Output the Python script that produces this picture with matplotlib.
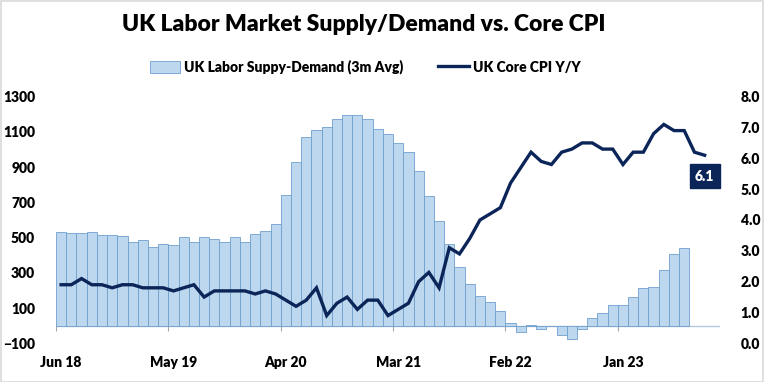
import numpy as np
import matplotlib.pyplot as plt
from matplotlib.patches import Rectangle

plt.rcParams.update({"font.family": ["Lato", "DejaVu Sans"], "font.weight": "heavy"})

# monthly, Jun 18 .. Sep 23 (line), bars stop at Jul 23
labor_sd = [534, 524, 524, 534, 515, 515, 509, 473, 488, 445, 462, 456,
            505, 473, 502, 490, 473, 502, 477, 519, 538, 576, 740, 929,
            1069, 1109, 1128, 1172, 1194, 1194, 1172, 1115, 1086, 1035, 984, 878,
            735, 594, 462, 331, 237, 169, 133, 83, 15, -36, 6, -19,
            -4, -51, -74, -17, 44, 72, 119, 119, 163, 212, 218, 316,
            407, 443]
core_cpi = [1.9, 1.9, 2.1, 1.9, 1.9, 1.8, 1.9, 1.9, 1.8, 1.8, 1.8, 1.7,
            1.8, 1.9, 1.5, 1.7, 1.7, 1.7, 1.7, 1.6, 1.7, 1.6, 1.4, 1.2,
            1.4, 1.8, 0.9, 1.3, 1.5, 1.1, 1.4, 1.4, 0.9, 1.1, 1.3, 2.0,
            2.3, 1.8, 3.1, 2.9, 3.4, 4.0, 4.2, 4.4, 5.2, 5.7, 6.2, 5.9,
            5.8, 6.2, 6.3, 6.5, 6.5, 6.3, 6.3, 5.8, 6.2, 6.2, 6.8, 7.1,
            6.9, 6.9, 6.2, 6.1]
tick_pos = [0, 11, 22, 33, 44, 55]
tick_labels = ["Jun 18", "May 19", "Apr 20", "Mar 21", "Feb 22", "Jan 23"]

navy = "#0b2559"
bar_fill = "#bdd7ee"
bar_edge = "#6f9fcf"

fig = plt.figure(figsize=(7.64, 3.82), dpi=100)
ax = fig.add_axes([0.0733, 0.1013, 0.8691, 0.6456])
ax2 = ax.twinx()

x_bar = np.arange(len(labor_sd))
x_line = np.arange(len(core_cpi))

ax.bar(x_bar, labor_sd, width=1.0, color=bar_fill, edgecolor=bar_edge,
       linewidth=0.6, label="UK Labor Suppy-Demand (3m Avg)", zorder=2)
ax.axhline(0, color="#b4c7e0", linewidth=1.0, zorder=1)
bounds = np.array(tick_pos) - 0.5
ax.vlines(bounds, -30, 0, color="#a6a6a6", linewidth=0.8, zorder=1)

ax2.plot(x_line, core_cpi, color=navy, linewidth=2.4, label="UK Core CPI Y/Y",
         solid_joinstyle="miter", zorder=3)
ax2.annotate(f"{core_cpi[-1]:.1f}", xy=(x_line[-1], core_cpi[-1]),
             xytext=(0, -15), textcoords="offset points", ha="center", va="center",
             color="white", fontsize=10,
             bbox=dict(boxstyle="square,pad=0.38", fc=navy, ec=navy))

ax.set_xlim(-0.5, 64.5)
ax.set_ylim(-100, 1300)
ax2.set_ylim(0, 8)
ax.set_yticks(np.arange(-100, 1301, 200))
ax2.set_yticks(np.arange(0, 8.01, 1))
ax2.set_yticklabels([f"{v:.1f}" for v in np.arange(0, 8.01, 1)])
ax.set_xticks(tick_pos)
ax.set_xticklabels(tick_labels)

for a in (ax, ax2):
    for s in a.spines.values():
        s.set_visible(False)
ax.tick_params(axis="y", length=0, pad=15, labelsize=10)
ax2.tick_params(axis="y", length=0, pad=15, labelsize=10)
ax.tick_params(axis="x", length=0, pad=9, labelsize=10)

fig.text(0.476, 0.935, "UK Labor Market Supply/Demand vs. Core CPI",
         ha="center", va="center", fontsize=16.5)

h1, l1 = ax.get_legend_handles_labels()
h2, l2 = ax2.get_legend_handles_labels()
fig.legend(h1 + h2, l1 + l2, loc="center", bbox_to_anchor=(0.478, 0.825), ncol=2,
           frameon=False, fontsize=10, handlelength=2.2, handleheight=0.9,
           columnspacing=2.5, handletextpad=0.3)

fig.patches.append(Rectangle((0.001, 0.001), 0.998, 0.997, transform=fig.transFigure,
                             fill=False, edgecolor="#d9d9d9", linewidth=1.2))

fig.savefig("out.png", dpi=100)
